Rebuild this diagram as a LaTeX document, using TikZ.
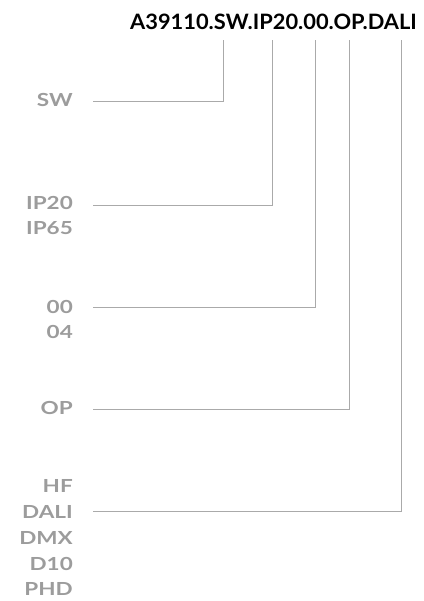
\documentclass[tikz,border=0pt]{standalone}
\usepackage{fontspec}
\setmainfont{Lato}[FakeStretch=1.25]
\newfontfamily\titlefont{Lato}[FakeStretch=1.03]
\definecolor{lbl}{HTML}{9C9C9C}
\definecolor{ln}{HTML}{AAAAAA}
\begin{document}
\begin{tikzpicture}[x=1pt,y=-1pt,
  opt/.style={anchor=base east,inner sep=0pt,text=lbl,font=\fontsize{18}{20}\selectfont\bfseries},
  conn/.style={draw=ln,line width=1pt},
  title/.style={anchor=base east,inner sep=0pt,font=\titlefont\fontsize{21.2}{23}\selectfont\bfseries}]
\useasboundingbox (0,0) rectangle (423,601);
\node[title] (code) at (417,30) {A39110.SW.IP20.00.OP.DALI};
\coordinate (t1) at (223,40);
\coordinate (t2) at (272,40);
\coordinate (t3) at (315,40);
\coordinate (t4) at (349,40);
\coordinate (t5) at (401,40);
\node[opt] (sw) at (73,107) {SW};
\node[opt] (ip20) at (73,210) {IP20};
\node[opt] (ip65) at (73,235) {IP65};
\node[opt] (o00) at (73,313) {00};
\node[opt] (o04) at (73,338) {04};
\node[opt] (op) at (73,414) {OP};
\node[opt] (hf) at (73,492) {HF};
\node[opt] (dali) at (73,518) {DALI};
\node[opt] (dmx) at (73,544) {DMX};
\node[opt] (d10) at (73,570) {D10};
\node[opt] (phd) at (73,595) {PHD};
\coordinate (s1) at (93,101.5);
\coordinate (s2) at (93,205.5);
\coordinate (s3) at (93,307.5);
\coordinate (s4) at (93,409);
\coordinate (s5) at (93,511);
\draw[conn] (s1) -| (t1);
\draw[conn] (s2) -| (t2);
\draw[conn] (s3) -| (t3);
\draw[conn] (s4) -| (t4);
\draw[conn] (s5) -| (t5);
\end{tikzpicture}
\end{document}
